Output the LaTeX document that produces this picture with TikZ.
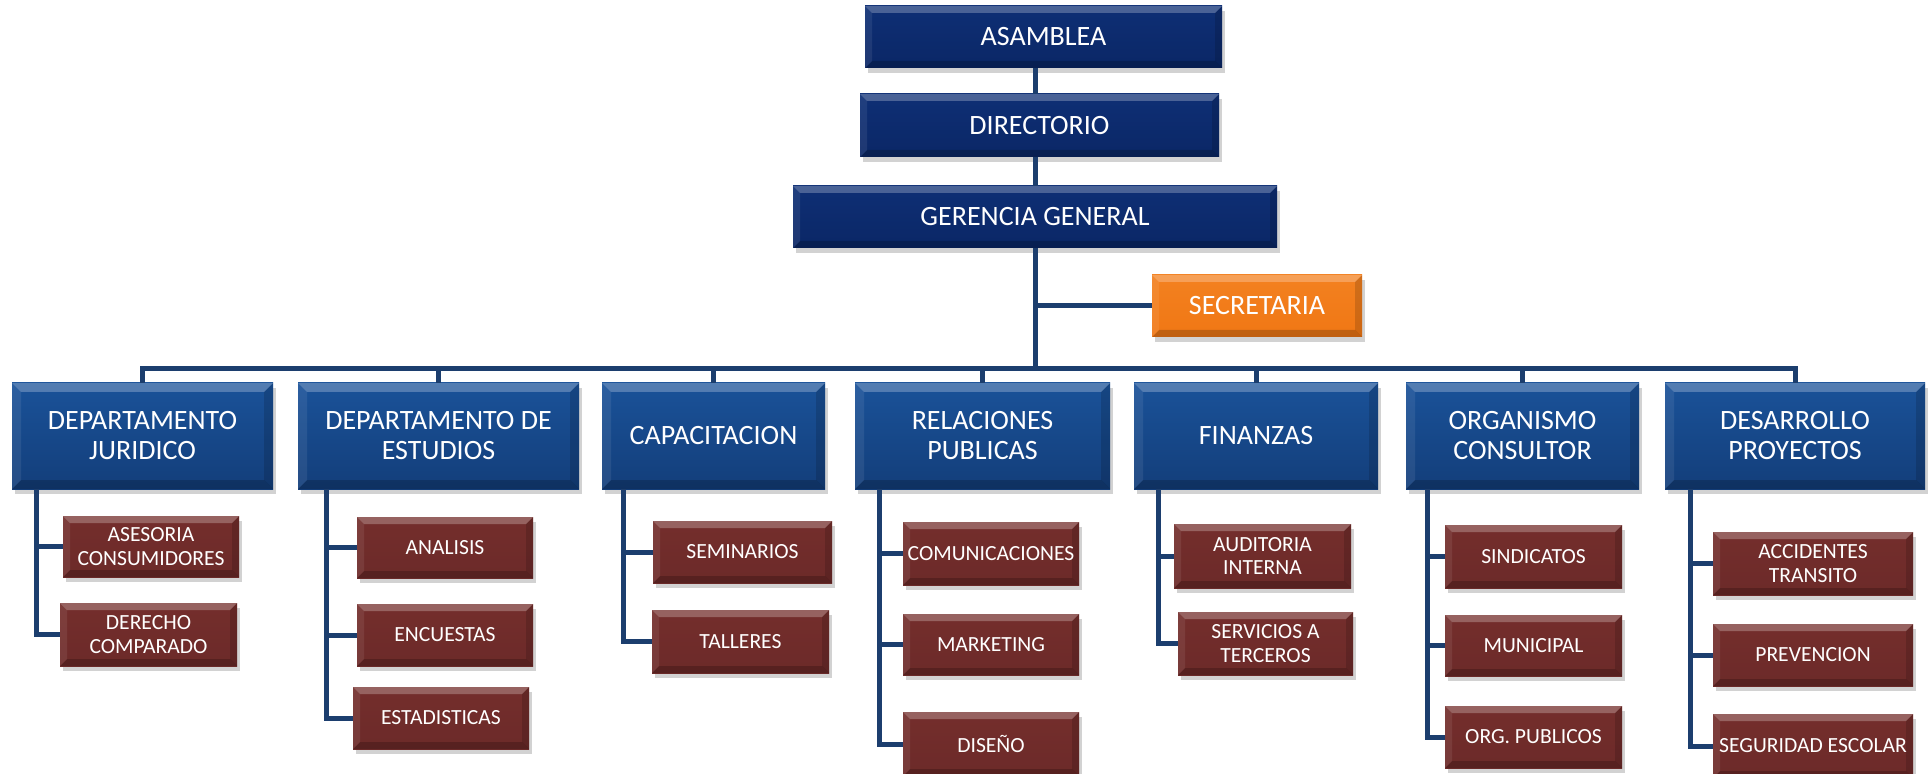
\documentclass[tikz,border=0pt]{standalone}
\usepackage{fontspec}
\setmainfont{Carlito}
\usetikzlibrary{shadows,calc}
\definecolor{navy}{HTML}{0B2766}
\definecolor{navyTop}{HTML}{0E2F75}
\definecolor{deptTop}{HTML}{1A5299}
\definecolor{deptBot}{HTML}{133E7A}
\definecolor{subc}{HTML}{6C2A29}
\definecolor{subTop}{HTML}{742E2C}
\definecolor{orangeBox}{HTML}{F07714}
\definecolor{orangeTop}{HTML}{F38120}
\definecolor{linec}{HTML}{1C3E6E}
\tikzset{
  bevel/.style={path picture={
    \fill[white,opacity=.25] (path picture bounding box.north west) -- (path picture bounding box.north east)
      -- ([xshift=-#1,yshift=-#1]path picture bounding box.north east) -- ([xshift=#1,yshift=-#1]path picture bounding box.north west) -- cycle;
    \fill[black,opacity=.2] (path picture bounding box.south west) -- (path picture bounding box.south east)
      -- ([xshift=-#1,yshift=#1]path picture bounding box.south east) -- ([xshift=#1,yshift=#1]path picture bounding box.south west) -- cycle;
    \fill[white,opacity=.08] (path picture bounding box.north west) -- ([xshift=#1,yshift=-#1]path picture bounding box.north west)
      -- ([xshift=#1,yshift=#1]path picture bounding box.south west) -- (path picture bounding box.south west) -- cycle;
    \fill[black,opacity=.14] (path picture bounding box.north east) -- ([xshift=-#1,yshift=-#1]path picture bounding box.north east)
      -- ([xshift=-#1,yshift=#1]path picture bounding box.south east) -- (path picture bounding box.south east) -- cycle;
  }},
  boxbase/.style={inner sep=0pt, align=center, text=white,
    drop shadow={shadow xshift=1.5pt, shadow yshift=-2.5pt, opacity=.25, fill=black!70}},
  topbox/.style={boxbase, top color=navyTop, bottom color=navy, bevel=3.5pt,
    font=\fontsize{14}{17}\selectfont},
  deptbox/.style={boxbase, top color=deptTop, bottom color=deptBot, bevel=4.5pt,
    font=\fontsize{14}{15}\selectfont},
  subbox/.style={boxbase, top color=subTop, bottom color=subc, bevel=3.5pt,
    font=\fontsize{10.8}{11.7}\selectfont},
  secbox/.style={boxbase, top color=orangeTop, bottom color=orangeBox, bevel=3.5pt,
    font=\fontsize{14}{17}\selectfont},
  conn/.style={draw=linec, line width=2.5pt}
}
\newcommand\bx[7]{\node[#6, minimum width={(#4-#2)*0.5pt}, minimum height={(#5-#3)*0.5pt}] (#1) at ({(#2+#4)/2},{(#3+#5)/2}) {#7};}
\begin{document}
\begin{tikzpicture}[x=0.5pt,y=-0.5pt]
\clip (0,0) rectangle (1930,774);
\fill[white] (0,0) rectangle (1930,774);
% top chain
\bx{asm}{865}{6}{1222}{68}{topbox}{ASAMBLEA}
\bx{dir}{860}{94}{1219}{157}{topbox}{DIRECTORIO}
\bx{ger}{793}{186}{1277}{248}{topbox}{GERENCIA GENERAL}
\bx{sec}{1152}{275}{1362}{337}{secbox}{SECRETARIA}
% departments
\bx{dj}{12}{383}{273}{489}{deptbox}{DEPARTAMENTO\\JURIDICO}
\bx{de}{298}{383}{579}{489}{deptbox}{DEPARTAMENTO DE\\ESTUDIOS}
\bx{dc}{602}{383}{825}{489}{deptbox}{CAPACITACION}
\bx{dr}{855}{383}{1110}{489}{deptbox}{RELACIONES\\PUBLICAS}
\bx{df}{1134}{383}{1378}{489}{deptbox}{FINANZAS}
\bx{do}{1406}{383}{1639}{489}{deptbox}{ORGANISMO\\CONSULTOR}
\bx{dd}{1665}{383}{1925}{489}{deptbox}{DESARROLLO\\PROYECTOS}
% sub units
\bx{j1}{63}{516}{239}{577}{subbox}{ASESORIA\\CONSUMIDORES}
\bx{j2}{60}{603}{237}{666}{subbox}{DERECHO\\COMPARADO}
\bx{e1}{357}{517}{533}{578}{subbox}{ANALISIS}
\bx{e2}{357}{604}{533}{666}{subbox}{ENCUESTAS}
\bx{e3}{353}{687}{529}{749}{subbox}{ESTADISTICAS}
\bx{c1}{653}{521}{832}{583}{subbox}{SEMINARIOS}
\bx{c2}{652}{610}{829}{673}{subbox}{TALLERES}
\bx{r1}{903}{522}{1079}{585}{subbox}{COMUNICACIONES}
\bx{r2}{903}{614}{1079}{675}{subbox}{MARKETING}
\bx{r3}{903}{712}{1079}{776}{subbox}{DISEÑO}
\bx{f1}{1174}{524}{1351}{588}{subbox}{AUDITORIA\\INTERNA}
\bx{f2}{1178}{612}{1353}{675}{subbox}{SERVICIOS A\\TERCEROS}
\bx{o1}{1445}{525}{1622}{588}{subbox}{SINDICATOS}
\bx{o2}{1445}{615}{1622}{676}{subbox}{MUNICIPAL}
\bx{o3}{1445}{706}{1622}{768}{subbox}{ORG. PUBLICOS}
\bx{p1}{1713}{532}{1913}{595}{subbox}{ACCIDENTES\\TRANSITO}
\bx{p2}{1713}{624}{1913}{686}{subbox}{PREVENCION}
\bx{p3}{1713}{714}{1913}{778}{subbox}{SEGURIDAD ESCOLAR}
% connectors
\coordinate (bus) at (1035,369);
\draw[conn] (asm.south -| ger.south) -- (dir.north -| ger.south);
\draw[conn] (dir.south -| ger.south) -- (ger.north);
\draw[conn] (ger.south) -- (bus);
\draw[conn] (ger.south |- sec.west) -- (sec.west);
\foreach \d in {dj,de,dc,dr,df,do,dd}{\draw[conn] (bus) -| (\d.north);}
\foreach \d/\o/\cs in {dj/25/{j1,j2}, de/29/{e1,e2,e3}, dc/22/{c1,c2}, dr/25/{r1,r2,r3},
    df/25/{f1,f2}, do/22/{o1,o2,o3}, dd/26/{p1,p2,p3}}{
  \foreach \c in \cs {\draw[conn] ($(\d.south west)+(\o,0)$) |- (\c.west);}
}
\end{tikzpicture}
\end{document}
